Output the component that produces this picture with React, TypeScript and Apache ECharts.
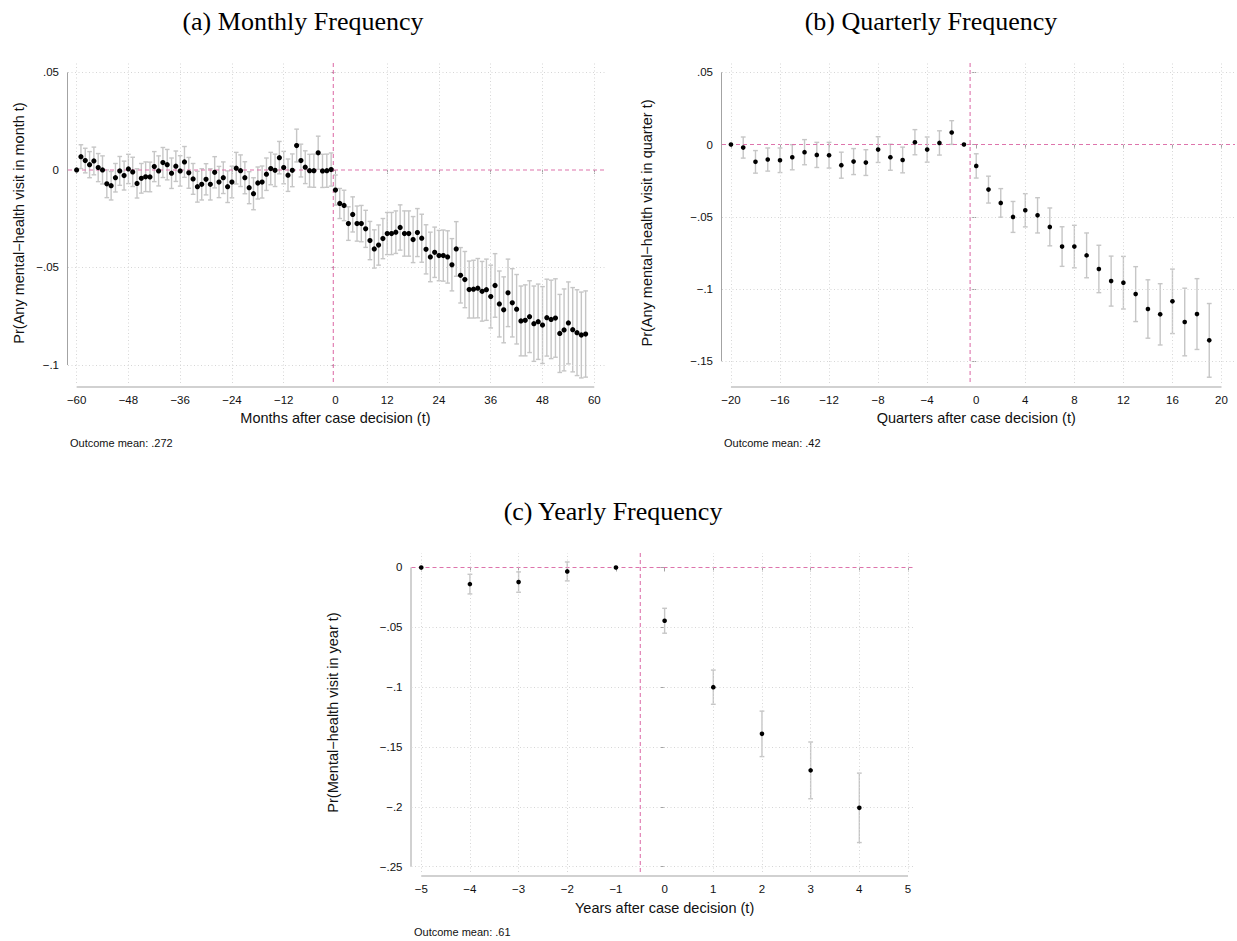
import React, { useEffect, useRef } from "react";
import * as echarts from "echarts";

const range = (a: number, b: number) => {
  const r: number[] = [];
  for (let i = a; i <= b; i++) r.push(i);
  return r;
};

// ---------- Panel (a): monthly ----------
const monthT = range(-60, 58);
const monthCoef = [
  0, 0.0068, 0.0048, 0.0027, 0.0046, 0.0012, 0, -0.0071, -0.0081, -0.004,
  -0.0005, -0.0029, 0.0005, -0.001, -0.0069, -0.0043, -0.0035, -0.0036, 0.0017, -0.0005,
  0.0038, 0.0027, -0.0017, 0.0019, -0.0005, 0.0041, -0.0015, -0.0046, -0.0086, -0.0074,
  -0.0048, -0.0074, -0.0012, -0.0062, -0.004, -0.0086, -0.0062, 0.0009, -0.0004, -0.004,
  -0.0091, -0.0122, -0.0067, -0.0062, -0.0022, 0.0007, -0.0002, 0.0063, 0.0012, -0.0027,
  -0.0002, 0.0125, 0.0048, 0.0014, -0.0004, -0.0004, 0.0088, -0.0005, -0.0004, 0.0002,
  -0.0103, -0.0172, -0.0182, -0.0275, -0.0228, -0.0275, -0.0275, -0.0302, -0.0362, -0.0405,
  -0.0385, -0.0352, -0.0326, -0.0326, -0.0319, -0.0295, -0.0326, -0.0326, -0.0357, -0.0321,
  -0.035, -0.0407, -0.0446, -0.0422, -0.0439, -0.0439, -0.0446, -0.0486, -0.0405, -0.054,
  -0.0562, -0.0613, -0.0611, -0.0606, -0.0622, -0.0614, -0.0649, -0.0592, -0.0687, -0.0717,
  -0.063, -0.0681, -0.0714, -0.0774, -0.0771, -0.0752, -0.0788, -0.0778, -0.0795, -0.0757,
  -0.0766, -0.0759, -0.0838, -0.082, -0.0784, -0.0819, -0.0834, -0.0846, -0.0841,
];
const monthCi = [
  0, 0.0061, 0.0063, 0.0067, 0.0071, 0.0072, 0.0072, 0.0071, 0.0073, 0.0073,
  0.0074, 0.0074, 0.0075, 0.0075, 0.0075, 0.0076, 0.0076, 0.0076, 0.0077, 0.0077,
  0.0077, 0.0078, 0.0078, 0.0078, 0.0078, 0.0079, 0.0079, 0.0079, 0.0079, 0.008,
  0.008, 0.008, 0.008, 0.008, 0.0081, 0.0081, 0.0081, 0.0081, 0.0081, 0.0082,
  0.0082, 0.0082, 0.0082, 0.0082, 0.0083, 0.0083, 0.0083, 0.0083, 0.0083, 0.0083,
  0.0084, 0.0084, 0.0084, 0.0084, 0.0084, 0.0085, 0.0085, 0.0085, 0.0085, 0.0085,
  0.0077, 0.0077, 0.0078, 0.0086, 0.009, 0.009, 0.0093, 0.0095, 0.0098, 0.0098,
  0.0103, 0.0103, 0.0108, 0.0108, 0.0109, 0.0116, 0.0116, 0.0116, 0.0118, 0.0123,
  0.0123, 0.0126, 0.0127, 0.0129, 0.0129, 0.0131, 0.0134, 0.0134, 0.014, 0.0142,
  0.0144, 0.0146, 0.0148, 0.0152, 0.0153, 0.0157, 0.0161, 0.0163, 0.0169, 0.0169,
  0.0173, 0.0175, 0.0178, 0.0179, 0.0182, 0.0184, 0.0193, 0.0193, 0.0197, 0.0197,
  0.0201, 0.0201, 0.02, 0.021, 0.021, 0.0216, 0.022, 0.022, 0.0221,
];
const monthTicksX = [-60, -48, -36, -24, -12, 0, 12, 24, 36, 48, 60];
const monthTicksY = [0.05, 0, -0.05, -0.1];

// ---------- Panel (b): quarterly ----------
const quarterT = range(-20, 19);
const quarterCoef = [
  0, -0.0021, -0.012, -0.0104, -0.0109, -0.0088, -0.0053, -0.0072, -0.0074, -0.0143,
  -0.0118, -0.0125, -0.0035, -0.0088, -0.0107, 0.0016, -0.0035, 0.0011, 0.0083, 0,
  -0.0148, -0.0312, -0.0404, -0.0501, -0.0455, -0.049, -0.057, -0.0706, -0.0706, -0.0767,
  -0.0861, -0.0945, -0.0956, -0.1035, -0.1138, -0.1175, -0.1085, -0.1228, -0.1173, -0.1355,
];
const quarterCi = [
  0, 0.0073, 0.0078, 0.008, 0.0085, 0.0087, 0.0087, 0.0087, 0.0089, 0.009,
  0.009, 0.0089, 0.0089, 0.009, 0.0089, 0.0087, 0.0087, 0.0084, 0.0082, 0,
  0.0084, 0.0093, 0.0099, 0.0107, 0.0115, 0.0122, 0.0131, 0.0137, 0.0147, 0.0155,
  0.0164, 0.0173, 0.0182, 0.019, 0.0202, 0.0212, 0.0223, 0.0234, 0.0245, 0.0255,
];
const quarterTicksX = [-20, -16, -12, -8, -4, 0, 4, 8, 12, 16, 20];
const quarterTicksY = [0.05, 0, -0.05, -0.1, -0.15];

// ---------- Panel (c): yearly ----------
const yearT = range(-5, 4);
const yearCoef = [0, -0.0139, -0.0122, -0.0033, 0, -0.0445, -0.1, -0.139, -0.1695, -0.2008];
const yearCi = [0, 0.0082, 0.0085, 0.0079, 0, 0.0104, 0.0143, 0.019, 0.0237, 0.029];
const yearTicksX = [-5, -4, -3, -2, -1, 0, 1, 2, 3, 4, 5];
const yearTicksY = [0, -0.05, -0.1, -0.15, -0.2, -0.25];

const panelTitles = ["(a) Monthly Frequency", "(b) Quarterly Frequency", "(c) Yearly Frequency"];
const xTitles = [
  "Months after case decision (t)",
  "Quarters after case decision (t)",
  "Years after case decision (t)",
];
const yTitles = [
  "Pr(Any mental\u2212health visit in month t)",
  "Pr(Any mental\u2212health visit in quarter t)",
  "Pr(Mental\u2212health visit in year t)",
];
const notes = ["Outcome mean: .272", "Outcome mean: .42", "Outcome mean: .61"];
const eventLine = -0.5;
const zeroLine = 0;

const SANS = "'Liberation Sans', Arial, Helvetica, sans-serif";
const SERIF = "'Liberation Serif', 'Times New Roman', serif";
const AXIS_GRAY = "#a3a3a3";
const GRID_GRAY = "#d6d6d6";
const PINK = "#de74ac";
const BAR_GRAY = "#c6c6c6";

const fmtY = (v: number) => {
  if (Math.abs(v) < 1e-9) return "0";
  const s = Math.abs(v).toFixed(2).replace(/0+$/, "").replace(/^0/, "");
  return (v < 0 ? "\u2212" : "") + s;
};
const fmtX = (v: number) => (v < 0 ? "\u2212" + Math.abs(v) : String(Math.round(v)));

export default function App() {
  const ref = useRef<HTMLDivElement>(null);

  useEffect(() => {
    if (!ref.current) return;
    const chart = echarts.init(ref.current, null, { renderer: "svg" });

    const panels = [
      {
        t: monthT, coef: monthCoef, ci: monthCi, tx: monthTicksX, ty: monthTicksY,
        left: 68, right: 607, top: 63, bottom: 383,
        xMin: -62, xMax: 62.95, yMin: -0.1092, yMax: 0.0548,
        dot: 5.2, cap: 2.3,
        titleX: 303, titleY: 21, xTitleY: 418, yTitleX: 18.7, noteX: 70, noteY: 442.5,
      },
      {
        t: quarterT, coef: quarterCoef, ci: quarterCi, tx: quarterTicksX, ty: quarterTicksY,
        left: 722, right: 1235, top: 63, bottom: 383,
        xMin: -20.73, xMax: 21.1, yMin: -0.165, yMax: 0.0564,
        dot: 4.6, cap: 2.4,
        titleX: 931, titleY: 21, xTitleY: 418, yTitleX: 647, noteX: 724, noteY: 442.5,
      },
      {
        t: yearT, coef: yearCoef, ci: yearCi, tx: yearTicksX, ty: yearTicksY,
        left: 411.5, right: 915.5, top: 553, bottom: 872,
        xMin: -5.2, xMax: 5.154, yMin: -0.2544, yMax: 0.0121,
        dot: 4.6, cap: 2.4,
        titleX: 613, titleY: 511, xTitleY: 908, yTitleX: 333, noteX: 414, noteY: 931.5,
      },
    ];

    const grid: any[] = [];
    const xAxis: any[] = [];
    const yAxis: any[] = [];
    const series: any[] = [];

    panels.forEach((p, i) => {
      grid.push({
        left: p.left,
        top: p.top,
        width: p.right - p.left,
        height: p.bottom - p.top,
        containLabel: false,
        outerBoundsMode: "none",
      });
      xAxis.push({
        gridIndex: i,
        type: "value",
        min: p.xMin,
        max: p.xMax,
        position: "bottom",
        offset: 4,
        axisLine: { show: false },
        axisTick: { show: true, length: 4, customValues: p.tx, lineStyle: { color: AXIS_GRAY, width: 1 } },
        axisLabel: {
          customValues: p.tx,
          formatter: (v: number) => fmtX(v),
          margin: 7,
          fontSize: 11.5,
          fontFamily: SANS,
          color: "#111",
        },
        splitLine: { show: false },
        axisPointer: { show: false },
      });
      yAxis.push({
        gridIndex: i,
        type: "value",
        min: p.yMin,
        max: p.yMax,
        position: "left",
        offset: 0.5,
        axisLine: { show: false },
        axisTick: { show: true, length: 4, customValues: p.ty, lineStyle: { color: AXIS_GRAY, width: 1 } },
        axisLabel: {
          customValues: p.ty,
          formatter: (v: number) => fmtY(v),
          margin: 8.5,
          fontSize: 11.5,
          fontFamily: SANS,
          color: "#111",
        },
        splitLine: { show: false },
        axisPointer: { show: false },
      });

      const gridLines: any[] = [];
      p.tx.filter((v) => Math.abs(v - eventLine) > 0.6).forEach((v) => gridLines.push({ xAxis: v }));
      p.ty.filter((v) => Math.abs(v - zeroLine) > 1e-9).forEach((v) => gridLines.push({ yAxis: v }));

      const barData = p.t
        .map((x, k) => [x, p.coef[k] - p.ci[k], p.coef[k] + p.ci[k], p.ci[k]])
        .filter((d) => d[3] > 0);
      const cap = p.cap;

      series.push({
        type: "custom",
        xAxisIndex: i,
        yAxisIndex: i,
        z: 3,
        silent: true,
        encode: { x: 0, y: [1, 2] },
        data: barData,
        renderItem: (_params: any, api: any) => {
          const x = api.value(0);
          const top = api.coord([x, api.value(2)]);
          const bot = api.coord([x, api.value(1)]);
          const style = { stroke: BAR_GRAY, lineWidth: 1.4, fill: null };
          return {
            type: "group",
            children: [
              { type: "line", shape: { x1: top[0], y1: top[1], x2: bot[0], y2: bot[1] }, style },
              { type: "line", shape: { x1: top[0] - cap, y1: top[1], x2: top[0] + cap, y2: top[1] }, style },
              { type: "line", shape: { x1: bot[0] - cap, y1: bot[1], x2: bot[0] + cap, y2: bot[1] }, style },
            ],
          };
        },
        markLine: {
          silent: true,
          symbol: ["none", "none"],
          label: { show: false },
          lineStyle: { color: GRID_GRAY, type: [1, 2.5], width: 1 },
          data: gridLines,
        },
      });
      series.push({
        type: "scatter",
        xAxisIndex: i,
        yAxisIndex: i,
        z: 5,
        silent: true,
        symbol: "circle",
        symbolSize: p.dot,
        itemStyle: { color: "#000", opacity: 1, borderWidth: 0, borderColor: "#000" },
        data: p.t.map((x, k) => [x, p.coef[k]]),
      });
    });

    chart.setOption({
      animation: false,
      backgroundColor: "#fff",
      textStyle: { fontFamily: SANS },
      grid,
      xAxis,
      yAxis,
      series,
    });

    const g: any[] = [];
    panels.forEach((p, i) => {
      const px = (v: number) => chart.convertToPixel({ xAxisIndex: i } as any, v) as number;
      const py = (v: number) => chart.convertToPixel({ yAxisIndex: i } as any, v) as number;
      const x0 = px(p.tx[0]);
      const x1 = px(p.tx[p.tx.length - 1]);
      const y0 = py(p.ty[0]);
      const y1 = py(p.ty[p.ty.length - 1]);
      const axY = p.bottom + 4;
      const axX = p.left - 0.5;
      // reference lines (zero effect, event time)
      const yz = py(zeroLine);
      const xe = px(eventLine);
      g.push({
        type: "line",
        silent: true,
        z: 4,
        shape: { x1: p.left, y1: yz, x2: p.right, y2: yz },
        style: { stroke: PINK, lineWidth: 1.1, lineDash: [4, 3] },
      });
      g.push({
        type: "line",
        silent: true,
        z: 4,
        shape: { x1: xe, y1: p.top, x2: xe, y2: p.bottom },
        style: { stroke: PINK, lineWidth: 1.1, lineDash: [4, 3] },
      });
      // axis lines
      g.push({
        type: "line",
        silent: true,
        shape: { x1: x0, y1: axY, x2: x1, y2: axY },
        style: { stroke: AXIS_GRAY, lineWidth: 1 },
      });
      g.push({
        type: "line",
        silent: true,
        shape: { x1: axX, y1: y0, x2: axX, y2: y1 },
        style: { stroke: AXIS_GRAY, lineWidth: 1 },
      });
      g.push({
        type: "text",
        silent: true,
        x: p.titleX,
        y: p.titleY,
        style: {
          text: panelTitles[i],
          fontSize: 26,
          fontFamily: SERIF,
          fill: "#000",
          textAlign: "center",
          textVerticalAlign: "middle",
          align: "center",
          verticalAlign: "middle",
        },
      });
      g.push({
        type: "text",
        silent: true,
        x: (x0 + x1) / 2,
        y: p.xTitleY,
        style: {
          text: xTitles[i],
          fontSize: 14.5,
          fontFamily: SANS,
          fill: "#111",
          textAlign: "center",
          textVerticalAlign: "middle",
          align: "center",
          verticalAlign: "middle",
        },
      });
      g.push({
        type: "text",
        silent: true,
        x: p.yTitleX,
        y: (p.top + p.bottom) / 2,
        rotation: Math.PI / 2,
        style: {
          text: yTitles[i],
          fontSize: 14.5,
          fontFamily: SANS,
          fill: "#111",
          textAlign: "center",
          textVerticalAlign: "middle",
          align: "center",
          verticalAlign: "middle",
        },
      });
      g.push({
        type: "text",
        silent: true,
        x: p.noteX,
        y: p.noteY,
        style: {
          text: notes[i],
          fontSize: 11,
          fontFamily: SANS,
          fill: "#111",
          textAlign: "left",
          textVerticalAlign: "middle",
          align: "left",
          verticalAlign: "middle",
        },
      });
    });
    chart.setOption({ graphic: { elements: g } });

    return () => chart.dispose();
  }, []);

  return (
    <div
      ref={ref}
      style={{ position: "absolute", left: 0, top: 0, width: 1237, height: 941, background: "#fff" }}
    />
  );
}
